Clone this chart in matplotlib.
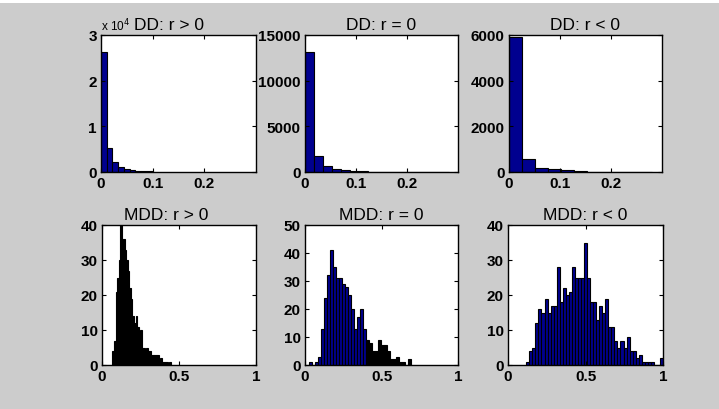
import matplotlib
matplotlib.use("Agg")
import matplotlib.pyplot as plt
import numpy as np

# ---------------- data ----------------
dd_pos_start, dd_pos_width = 0.0, 0.0111
dd_pos_counts = [26200, 5300, 2200, 1100, 700, 450, 300, 220, 200]

dd_zero_start, dd_zero_width = 0.0, 0.0176
dd_zero_counts = [13120, 1800, 620, 330, 220, 130, 100, 40, 30, 20, 15, 10, 8, 5, 5, 3]

dd_neg_start, dd_neg_width = 0.0, 0.0255
dd_neg_counts = [5900, 570, 195, 110, 70, 25, 20, 15, 10, 8, 5]

mdd_pos_start, mdd_pos_width = 0.068, 0.01
mdd_pos_counts = [4, 7, 21, 25, 30, 40, 36, 36, 33, 30, 27, 22, 19, 14, 12, 14,
                  11, 8, 10, 5, 5, 3, 5, 4, 4, 3, 3, 3, 3, 3, 1, 2, 1, 1, 1, 1,
                  0, 1]

mdd_zero_start, mdd_zero_width = 0.026, 0.0196
mdd_zero_counts = [1, 0, 1, 3, 13, 24, 32, 41, 35, 31, 31, 29, 28, 25, 20, 13,
                   17, 20, 13, 9, 8, 5, 5, 9, 7, 7, 5, 2, 2, 3, 1, 1, 0, 2]

mdd_neg_start, mdd_neg_width = 0.118, 0.0196
mdd_neg_counts = [1, 4, 5, 12, 16, 15, 19, 15, 17, 17, 28, 18, 22, 20, 21, 28,
                  25, 25, 25, 35, 25, 18, 18, 13, 17, 15, 19, 11, 11, 7, 5, 7,
                  5, 8, 4, 4, 2, 3, 1, 1, 1, 1, 0, 0, 2]

titles = ["DD: r > 0", "DD: r = 0", "DD: r < 0",
          "MDD: r > 0", "MDD: r = 0", "MDD: r < 0"]

# ---------------- style ----------------
NAVY = (0.0, 0.0, 0.56)
BG = "#cccccc"
plt.rcParams["font.family"] = ["Liberation Sans", "DejaVu Sans"]

W, H = 719, 410
fig = plt.figure(figsize=(W / 100, H / 100), dpi=100)
fig.patch.set_facecolor(BG)
# thin white strip at the very top (as in the screenshot)
fig.patches.append(plt.Rectangle((0, 1 - 4 / H), 1, 4 / H, transform=fig.transFigure,
                                 facecolor="white", edgecolor="none"))


def px_axes(x0, x1, y0, y1):
    return fig.add_axes([x0 / W, 1 - y1 / H, (x1 - x0) / W, (y1 - y0) / H])


boxes = [(101, 256, 36, 173), (305, 458, 36, 173), (509, 662, 36, 173),
         (102, 256, 226, 366), (305, 458, 226, 366), (508, 663, 226, 366)]

datasets = [
    (dd_pos_start, dd_pos_width, dd_pos_counts),
    (dd_zero_start, dd_zero_width, dd_zero_counts),
    (dd_neg_start, dd_neg_width, dd_neg_counts),
    (mdd_pos_start, mdd_pos_width, mdd_pos_counts),
    (mdd_zero_start, mdd_zero_width, mdd_zero_counts),
    (mdd_neg_start, mdd_neg_width, mdd_neg_counts),
]

ylims = [(0, 30000), (0, 15000), (0, 6000), (0, 40), (0, 50), (0, 40)]
yticks = [[0, 10000, 20000, 30000], [0, 5000, 10000, 15000], [0, 2000, 4000, 6000],
          [0, 10, 20, 30, 40], [0, 10, 20, 30, 40, 50], [0, 10, 20, 30, 40]]
ytlabels = [["0", "1", "2", "3"], None, None, None, None, None]
title_x = [0.436, 0.5, 0.5, 0.415, 0.5, 0.5]

for i, (box, (start, width, counts)) in enumerate(zip(boxes, datasets)):
    ax = px_axes(*box)
    ax.set_facecolor("white")
    counts = np.asarray(counts, dtype=float)
    edges = start + width * np.arange(len(counts))
    colors = [NAVY] * len(counts)
    if i == 3:
        colors = ["black"] * len(counts)
    if i == 4:
        colors = [NAVY if e < 0.39 else "black" for e in edges]
    ax.bar(edges, counts, width=width, align="edge", color=colors,
           edgecolor="black", linewidth=0.8)
    if i < 3:
        ax.set_xlim(0, 0.3)
        ax.set_xticks([0, 0.1, 0.2])
        ax.set_xticklabels(["0", "0.1", "0.2"])
    else:
        ax.set_xlim(0, 1)
        ax.set_xticks([0, 0.5, 1])
        ax.set_xticklabels(["0", "0.5", "1"])
    ax.set_ylim(*ylims[i])
    ax.set_yticks(yticks[i])
    if ytlabels[i] is not None:
        ax.set_yticklabels(ytlabels[i])
    else:
        ax.set_yticklabels([str(v) for v in yticks[i]])
    ax.tick_params(direction="in", top=True, right=True, length=3, width=0.8,
                   labelsize=11, pad=3, colors="black")
    for lab in ax.get_xticklabels() + ax.get_yticklabels():
        lab.set_fontweight("bold")
    for sp in ax.spines.values():
        sp.set_linewidth(1.0)
        sp.set_color("black")
    ax.set_title(titles[i], fontsize=12.5, pad=4, x=title_x[i])
    if i == 0:
        ax.text(0.0, 1.015, r"x 10$^{4}$", transform=ax.transAxes, ha="left",
                va="bottom", fontsize=8.5)

fig.savefig("out.png", dpi=100, facecolor=fig.get_facecolor())
